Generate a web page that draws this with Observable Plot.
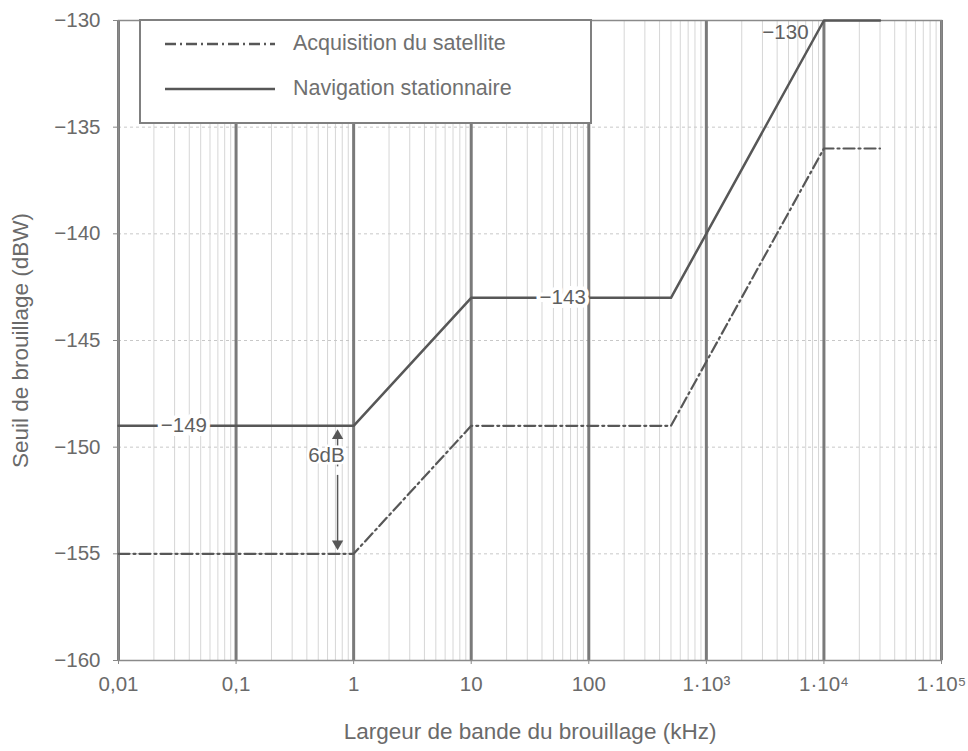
<!DOCTYPE html>
<html><head><meta charset="utf-8">
<script src="https://cdn.jsdelivr.net/npm/d3@7"></script>
<script src="https://cdn.jsdelivr.net/npm/@observablehq/plot@0.6"></script>
<style>
body{margin:0;background:#fff;font-family:"Liberation Sans",Arial,sans-serif;}
#wrap{position:relative;width:968px;height:751px;}
#legend{position:absolute;left:139px;top:19px;width:453px;height:105px;background:#fff;border:2px solid #808080;box-sizing:border-box;}
#legend .row{position:absolute;left:22px;display:flex;align-items:center;color:#707070;font-size:21.5px;}
#legend .row svg{margin-right:16px;}
</style></head><body><div id="wrap"></div>
<script>
// Data
const bandwidth = [0.01, 1, 10, 500, 10000, 30000];           // kHz
const navigation = [-149, -149, -143, -143, -130, -130];      // dBW, Navigation stationnaire
const acquisition = [-155, -155, -149, -149, -136, -136];     // dBW, Acquisition du satellite
const seriesNames = ["Acquisition du satellite", "Navigation stationnaire"];
const xTicks = [0.01, 0.1, 1, 10, 100, 1e3, 1e4, 1e5];
const xTickLabels = ["0,01", "0,1", "1", "10", "100", "1·10³", "1·10⁴", "1·10⁵"];
const yTicks = [-160, -155, -150, -145, -140, -135, -130];
const xTitle = "Largeur de bande du brouillage (kHz)";
const yTitle = "Seuil de brouillage (dBW)";
const midLabels = ["−149", "−143"];
const midLabelX = [0.036, 60];
const midLabelY = [-149, -143];
const topLabel = "−130", topLabelX = 7400, topLabelY = -130;
const gapX = 0.73, gapTop = -149, gapBottom = -155, gapLabel = "6dB", gapLabelX = 0.587, gapLabelY = -150.4;

const navData = bandwidth.map((x, i) => ({x, y: navigation[i]}));
const acqData = bandwidth.map((x, i) => ({x, y: acquisition[i]}));
const minorX = [];
for (let e = -2; e < 5; e++) for (let m = 2; m <= 9; m++) minorX.push(m * Math.pow(10, e));
const tickFmt = new Map(xTicks.map((t, i) => [t, xTickLabels[i]]));

const ink = "#575757", txt = "#6a6a6a";
const chart = Plot.plot({
  width: 968, height: 751,
  marginLeft: 118, marginRight: 27, marginTop: 20, marginBottom: 91,
  style: {fontFamily: "'Liberation Sans', Arial, sans-serif", fontSize: "20px", color: txt, background: "#fff"},
  x: {type: "log", domain: [0.01, 1e5]},
  y: {domain: [-160, -130]},
  marks: [
    Plot.gridX(minorX, {stroke: "#d6d6d6", strokeOpacity: 1, strokeWidth: 1}),
    Plot.gridY(yTicks, {stroke: "#c8c8c8", strokeOpacity: 1, strokeDasharray: "3,3"}),
    Plot.gridX(xTicks, {stroke: "#7a7a7a", strokeOpacity: 1, strokeWidth: 3}),
    Plot.frame({stroke: "#8a8a8a", strokeWidth: 1.5}),
    Plot.axisY(yTicks, {tickSize: 5, tickPadding: 13, fontSize: 20.5, stroke: "#888", fill: txt,
      tickFormat: d => "−" + Math.abs(d), label: null}),
    Plot.axisX(xTicks, {tickSize: 4, tickPadding: 12, fontSize: 20.5, stroke: "#888", fill: txt,
      tickFormat: d => tickFmt.get(d), label: null}),
    Plot.text([xTitle], {frameAnchor: "bottom", dy: 78, fontSize: 22.5, fill: txt, text: d => d}),
    Plot.text([yTitle], {frameAnchor: "left", dx: -98, rotate: -90, textAnchor: "middle", fontSize: 22.5, fill: txt, text: d => d}),
    Plot.line(acqData, {x: "x", y: "y", stroke: ink, strokeWidth: 2.2, strokeDasharray: "11,4,2,4"}),
    Plot.line(navData, {x: "x", y: "y", stroke: ink, strokeWidth: 2.5}),
    Plot.text(midLabels, {x: (d, i) => midLabelX[i], y: (d, i) => midLabelY[i], text: d => d,
      fill: "#5f5f5f", fontSize: 20.5, stroke: "white", strokeWidth: 8, paintOrder: "stroke"}),
    Plot.text([topLabel], {x: topLabelX, y: topLabelY, text: d => d, textAnchor: "end", dy: 12,
      fill: "#5f5f5f", fontSize: 20.5}),
    Plot.link([gapLabel], {x1: gapX, x2: gapX, y1: -150.9, y2: gapTop - 0.5, stroke: ink, strokeWidth: 1.5}),
    Plot.link([gapLabel], {x1: gapX, x2: gapX, y1: -151.3, y2: gapBottom + 0.5, stroke: ink, strokeWidth: 1.5}),
    Plot.dot([gapLabel], {x: gapX, y: gapTop, symbol: "triangle", r: 4.2, fill: ink, stroke: "none", dy: 10}),
    Plot.dot([gapLabel], {x: gapX, y: gapBottom, symbol: "triangle", r: 4.2, fill: ink, stroke: "none", dy: -10, rotate: 180}),
    Plot.text([gapLabel], {x: gapLabelX, y: gapLabelY, text: d => d, fill: "#5f5f5f", fontSize: 20.5,
      stroke: "white", strokeWidth: 5, paintOrder: "stroke"})
  ]
});
const wrap = document.getElementById("wrap");
wrap.appendChild(chart);

const legend = document.createElement("div");
legend.id = "legend";
const dashes = ["11,4,2,4", null];
seriesNames.forEach((name, i) => {
  const row = document.createElement("div");
  row.className = "row";
  row.style.top = (i === 0 ? 10 : 55) + "px";
  row.innerHTML = `<svg width="114" height="10"><line x1="2" x2="112" y1="5" y2="5" stroke="${ink}" stroke-width="2.5" ${dashes[i] ? `stroke-dasharray="${dashes[i]}"` : ""}/></svg><span>${name}</span>`;
  legend.appendChild(row);
});
wrap.appendChild(legend);
</script></body></html>
